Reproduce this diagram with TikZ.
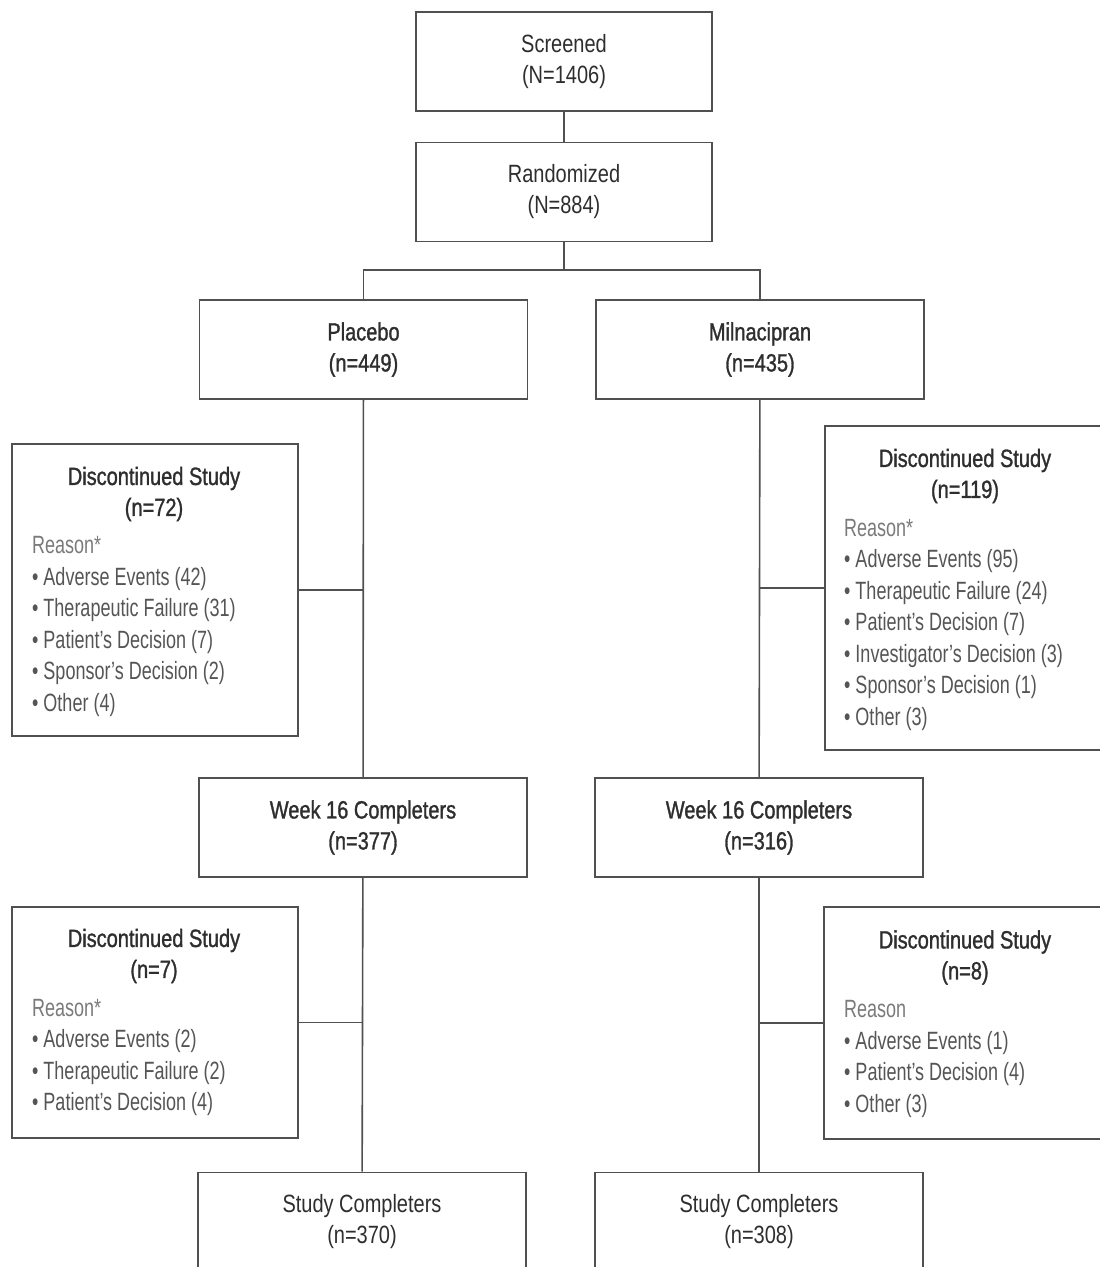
\documentclass[tikz,border=0pt]{standalone}
\usepackage{fontspec}
\setmainfont{Liberation Sans}[FakeStretch=0.8]
\newfontfamily\headfont{Liberation Sans}[FakeStretch=0.8, FakeBold=1.2, Ligatures=TeX]
\newfontfamily\itemfont{Liberation Sans}[FakeStretch=0.72, Ligatures=TeX]
\usetikzlibrary{calc, positioning}

\definecolor{linegray}{HTML}{505050}
\definecolor{titlegray}{HTML}{2E2E2E}
\definecolor{itemgray}{HTML}{555555}
\definecolor{reasongray}{HTML}{7A7A7A}

\begin{document}
\begin{tikzpicture}[x=1pt, y=-1pt, font=\fontsize{25}{31}\selectfont]
				\tikzstyle{box} = [draw=linegray, line width=1.6pt, rectangle, inner sep=0pt, text=titlegray, align=center, minimum width=328pt, minimum height=99pt]
				\tikzstyle{headbox} = [box, font=\headfont\fontsize{25}{31}\selectfont]
				\tikzstyle{discbox} = [draw=linegray, line width=1.6pt, rectangle, inner sep=0pt]
				\tikzstyle{title} = [draw=none, text=titlegray, align=center, inner sep=0pt, font=\headfont\fontsize{25}{31}\selectfont]
				\tikzstyle{items} = [draw=none, text=itemgray, align=left, anchor=west, inner sep=0pt, font=\itemfont\fontsize{25}{31.5}\selectfont]
				\tikzstyle{link} = [draw=linegray, line width=1.6pt]
				
				\useasboundingbox (0, 0) rectangle (1100, 1267);
				\clip (0, 0) rectangle (1100, 1267);
				
				% top
				\node[box, minimum width=296pt] 	at (564, 61.5) 	(scr) 	{Screened\\(N=1406)};
				\node[box, minimum width=296pt] 	at (564, 192) 	(ran) 	{Randomized\\(N=884)};
				\coordinate (split) at (564, 270);
				
				% arms
				\node[headbox] 	at (363.5, 349.5) 	(plc) 	{Placebo\\(n=449)};
				\node[headbox] 	at (760, 349.5) 	(mil) 	{Milnacipran\\(n=435)};
				\node[headbox] 	at (363, 827.5) 	(wkl) 	{Week 16 Completers\\(n=377)};
				\node[headbox] 	at (759, 827.5) 	(wkr) 	{Week 16 Completers\\(n=316)};
				\node[box] 	at (362, 1222) 	(scl) 	{Study Completers\\(n=370)};
				\node[box] 	at (759, 1222) 	(scr2) 	{Study Completers\\(n=308)};
				
				% discontinued, placebo side
				\node[discbox, minimum width=286pt, minimum height=292pt] 	at (155, 590) 	(dl1) 	{};
				\node[title] 	at (154, 494) 	(dl1t) 	{Discontinued Study\\(n=72)};
				\node[items] 	at (32, 626.5) 	(dl1l) 	{\textcolor{reasongray}{Reason*}\\ \textbullet\ Adverse Events (42)\\ \textbullet\ Therapeutic Failure (31)\\ \textbullet\ Patient's Decision (7)\\ \textbullet\ Sponsor's Decision (2)\\ \textbullet\ Other (4)};
				
				\node[discbox, minimum width=286pt, minimum height=231pt] 	at (155, 1022.5) 	(dl2) 	{};
				\node[title] 	at (154, 956) 	(dl2t) 	{Discontinued Study\\(n=7)};
				\node[items] 	at (32, 1057.5) 	(dl2l) 	{\textcolor{reasongray}{Reason*}\\ \textbullet\ Adverse Events (2)\\ \textbullet\ Therapeutic Failure (2)\\ \textbullet\ Patient's Decision (4)};
				
				% discontinued, milnacipran side
				\node[discbox, minimum width=282pt, minimum height=324pt] 	at (966, 588) 	(dr1) 	{};
				\node[title] 	at (965, 476) 	(dr1t) 	{Discontinued Study\\(n=119)};
				\node[items] 	at (844, 624.5) 	(dr1l) 	{\textcolor{reasongray}{Reason*}\\ \textbullet\ Adverse Events (95)\\ \textbullet\ Therapeutic Failure (24)\\ \textbullet\ Patient's Decision (7)\\ \textbullet\ Investigator's Decision (3)\\ \textbullet\ Sponsor's Decision (1)\\ \textbullet\ Other (3)};
				
				\node[discbox, minimum width=282pt, minimum height=232pt] 	at (965, 1023) 	(dr2) 	{};
				\node[title] 	at (965, 957.5) 	(dr2t) 	{Discontinued Study\\(n=8)};
				\node[items] 	at (844, 1059) 	(dr2l) 	{\textcolor{reasongray}{Reason}\\ \textbullet\ Adverse Events (1)\\ \textbullet\ Patient's Decision (4)\\ \textbullet\ Other (3)};
				
				\path[link]
				(scr)	edge	(ran)
				(ran)	edge	(split)
				(plc)	edge	(wkl)
				(mil)	edge	(wkr)
				(wkl)	edge	(scl)
				(wkr)	edge	(scr2);
				\draw[link] (split) -| (plc.north);
				\draw[link] (split) -| (mil.north);
				\draw[link] (plc.south |- dl1.east) -- (dl1.east);
				\draw[link] (mil.south |- dr1.west) -- (dr1.west);
				\draw[link] (wkl.south |- dl2.east) -- (dl2.east);
				\draw[link] (wkr.south |- dr2.west) -- (dr2.west);
\end{tikzpicture}
\end{document}
